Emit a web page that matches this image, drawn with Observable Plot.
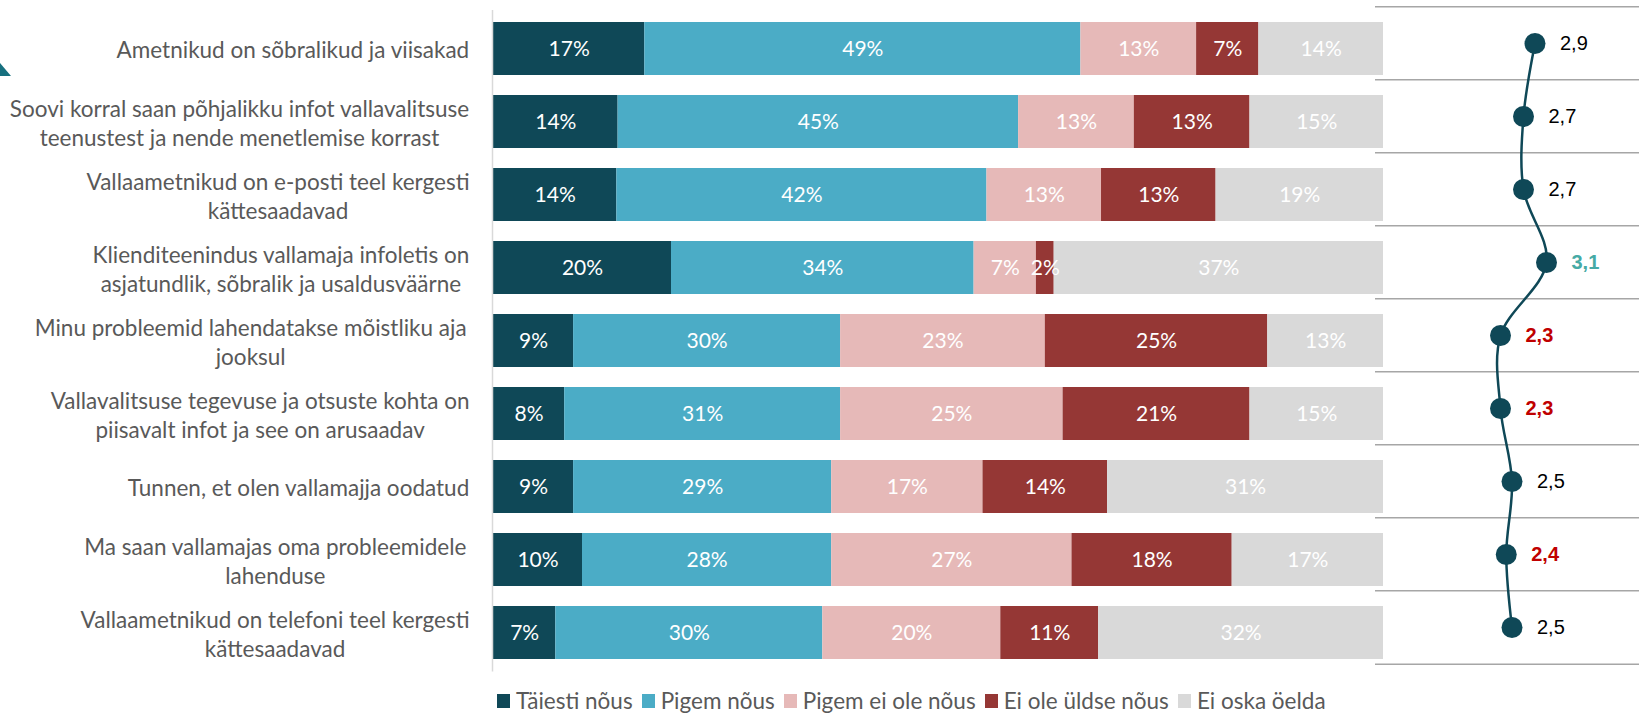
<!DOCTYPE html>
<html><head><meta charset="utf-8">
<script src="https://cdn.jsdelivr.net/npm/d3@7"></script>
<script src="https://cdn.jsdelivr.net/npm/@observablehq/plot@0.6"></script>
<style>
html,body{margin:0;padding:0;background:#fff;}
#wrap{position:relative;width:1639px;height:715px;overflow:hidden;font-family:Lato,sans-serif;}
#bars{position:absolute;left:0;top:0;}
#means{position:absolute;left:1375px;top:0;}
#legend{position:absolute;left:497px;top:688px;height:26px;line-height:26px;display:flex;align-items:center;gap:9px;font-size:22.5px;color:#595959;white-space:nowrap;}
.item{display:flex;align-items:center;}
.sw{width:13px;height:14px;margin-right:6px;}
#tri{position:absolute;left:0;top:63px;width:0;height:0;border-bottom:13px solid #17707f;border-right:11px solid transparent;}
</style></head>
<body><div id="wrap"><div id="tri"></div><div id="bars"></div><div id="means"></div><div id="legend"></div></div>
<script>
const categories = [
  "Ametnikud on sõbralikud ja viisakad",
  "Soovi korral saan põhjalikku infot vallavalitsuse\nteenustest ja nende menetlemise korrast",
  "Vallaametnikud on e-posti teel kergesti\nkättesaadavad",
  "Klienditeenindus vallamaja infoletis on\nasjatundlik, sõbralik ja usaldusväärne ",
  "Minu probleemid lahendatakse mõistliku aja \njooksul",
  "Vallavalitsuse tegevuse ja otsuste kohta on\npiisavalt infot ja see on arusaadav",
  "Tunnen, et olen vallamajja oodatud",
  "Ma saan vallamajas oma probleemidele \nlahenduse",
  "Vallaametnikud on telefoni teel kergesti\nkättesaadavad"
];
const responses = ["Täiesti nõus", "Pigem nõus", "Pigem ei ole nõus", "Ei ole üldse nõus", "Ei oska öelda"];
const colors = ["#0f4857", "#4bacc6", "#e6b9b8", "#953735", "#d9d9d9"];
const taiestiNous = [17, 14, 14, 20, 9, 8, 9, 10, 7];
const pigemNous = [49, 45, 42, 34, 30, 31, 29, 28, 30];
const pigemEiOleNous = [13, 13, 13, 7, 23, 25, 17, 27, 20];
const eiOleYldseNous = [7, 13, 13, 2, 25, 21, 14, 18, 11];
const eiOskaOelda = [14, 15, 19, 37, 13, 15, 31, 17, 32];
const means = [2.9, 2.7, 2.7, 3.1, 2.3, 2.3, 2.5, 2.4, 2.5];
const meanTone = ["normal", "normal", "normal", "high", "low", "low", "normal", "low", "normal"];

const series = [taiestiNous, pigemNous, pigemEiOleNous, eiOleYldseNous, eiOskaOelda];
const rows = [];
responses.forEach((r, j) => categories.forEach((c, i) => rows.push({cat: c, resp: r, value: series[j][i]})));
const meanRows = categories.map((c, i) => ({cat: c, m: means[i], tone: meanTone[i]}));
const fmt = v => d3.format(".1f")(v).replace(".", ",");

const H = 690;
const yOpts = {type: "band", domain: categories, paddingInner: 0.28, paddingOuter: 0.14, axis: null};
const MT = 10, MB = 18.5;
const LABEL_FS = 22.5;

const ctx = document.createElement("canvas").getContext("2d");
ctx.font = `${LABEL_FS}px Lato`;
const labelMarks = categories.map(c => {
  const w = Math.max(...c.split("\n").map(l => ctx.measureText(l).width));
  return Plot.text([c], {
    y: d => d, text: d => d.split("\n").map(s => s.trimEnd()).join("\n"),
    frameAnchor: "left", textAnchor: "middle", dx: -(24 + w / 2),
    fontSize: LABEL_FS, lineHeight: 1.3, fill: "#595959", fontFamily: "Lato"
  });
});

const left = Plot.plot({
  width: 1383, height: H, marginLeft: 493, marginRight: 0, marginTop: MT, marginBottom: MB,
  style: {fontFamily: "Lato", background: "transparent"},
  x: {domain: [0, 1], axis: null},
  y: yOpts,
  color: {domain: responses, range: colors},
  marks: [
    Plot.barX(rows, Plot.stackX({offset: "normalize", x: "value", y: "cat", fill: "resp"})),
    Plot.text(rows, Plot.stackX({offset: "normalize", x: "value", y: "cat", z: "resp",
      text: d => d.value + "%", fill: "white", fontSize: 21, fontFamily: "Lato"})),
    Plot.ruleX([0], {stroke: "#d9d9d9", strokeWidth: 1.5, dx: -1}),
    ...labelMarks
  ]
});
document.getElementById("bars").appendChild(left);

const meanText = (tone, fill, weight) => Plot.text(meanRows.filter(d => d.tone === tone), {
  x: "m", y: "cat", text: d => fmt(d.m), dx: 25, dy: -5.5, textAnchor: "start",
  fill, fontWeight: weight, fontSize: 20, fontFamily: "Liberation Sans, Arial, sans-serif"
});

const right = Plot.plot({
  width: 264, height: H, marginLeft: 125, marginRight: 93, marginTop: MT, marginBottom: MB,
  style: {background: "transparent"},
  x: {domain: d3.extent(means), axis: null},
  y: yOpts,
  marks: [
    Plot.ruleY(categories, {stroke: "#a6a6a6", strokeWidth: 1.6, dy: -42.25, insetLeft: -125, insetRight: -93}),
    Plot.ruleY(categories.slice(-1), {stroke: "#a6a6a6", strokeWidth: 1.6, dy: 31.25, insetLeft: -125, insetRight: -93}),
    Plot.line(meanRows, {x: "m", y: "cat", curve: "catmull-rom", stroke: "#0f4857", strokeWidth: 2.5, dy: -5.5}),
    Plot.dot(meanRows, {x: "m", y: "cat", r: 10.5, fill: "#0f4857", dy: -5.5}),
    meanText("normal", "#000000", "normal"),
    meanText("high", "#46aaa5", "bold"),
    meanText("low", "#c00000", "bold")
  ]
});
document.getElementById("means").appendChild(right);

const legend = document.getElementById("legend");
responses.forEach((r, i) => {
  const item = document.createElement("div");
  item.className = "item";
  item.innerHTML = `<span class="sw" style="background:${colors[i]}"></span><span>${r}</span>`;
  legend.appendChild(item);
});
</script>
</body></html>
